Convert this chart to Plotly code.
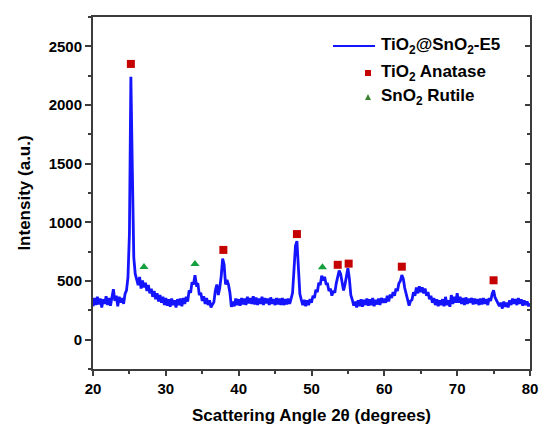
import numpy as np
import plotly.graph_objects as go

# 2-theta grid (0.2 deg steps, 20..80)
two_theta = np.round(np.arange(20.0, 80.01, 0.2), 1)

intensity = [
    285, 355, 295, 365, 300, 350, 275, 345, 305, 370,   # 20.0-21.8
    295, 355, 290, 360, 430, 330, 375, 285, 365, 315,   # 22.0-23.8
    355, 305, 390, 420, 530, 900, 2240, 1450, 700, 560,  # 24.0-25.8
    500, 465, 535, 435, 505, 445, 485, 415, 465, 395,   # 26.0-27.8
    435, 365, 415, 345, 395, 325, 380, 315, 365, 295,   # 28.0-29.8
    355, 290, 345, 280, 350, 295, 335, 275, 345, 295,   # 30.0-31.8
    350, 285, 355, 305, 365, 325, 420, 400, 490, 470,   # 32.0-33.8
    550, 470, 480, 380, 400, 330, 370, 305, 355, 295,   # 34.0-35.8
    335, 275, 300, 320, 420, 470, 380, 440, 540, 690,   # 36.0-37.8
    640, 470, 510, 470, 400, 280, 325, 285, 350, 295,   # 38.0-39.8
    345, 290, 355, 300, 350, 295, 365, 310, 355, 305,   # 40.0-41.8
    370, 300, 360, 295, 350, 305, 365, 295, 355, 310,   # 42.0-43.8
    350, 295, 360, 305, 345, 295, 355, 300, 350, 295,   # 44.0-45.8
    355, 295, 345, 300, 350, 305, 350, 400, 600, 800,   # 46.0-47.8
    840, 600, 390, 340, 295, 340, 285, 335, 295, 345,   # 48.0-49.8
    315, 375, 355, 425, 405, 485, 465, 545, 505, 535,   # 50.0-51.8
    475, 475, 415, 435, 375, 415, 400, 480, 530, 590,   # 52.0-53.8
    560, 480, 420, 470, 560, 610, 520, 380, 340, 290,   # 54.0-55.8
    325, 275, 335, 285, 345, 280, 340, 295, 350, 290,   # 56.0-57.8
    345, 295, 355, 285, 340, 300, 350, 295, 355, 315,   # 58.0-59.8
    350, 315, 375, 325, 385, 355, 405, 375, 435, 415,   # 60.0-61.8
    480, 500, 550, 520, 440, 380, 340, 290, 330, 340,   # 62.0-63.8
    405, 375, 445, 395, 455, 405, 445, 395, 435, 375,   # 64.0-65.8
    405, 345, 375, 315, 355, 295, 345, 285, 335, 295,   # 66.0-67.8
    345, 285, 365, 295, 335, 280, 380, 305, 365, 315,   # 68.0-69.8
    395, 315, 365, 305, 355, 295, 360, 305, 350, 315,   # 70.0-71.8
    355, 300, 350, 305, 345, 295, 350, 300, 355, 305,   # 72.0-73.8
    345, 295, 355, 330, 390, 420, 360, 330, 315, 285,   # 74.0-75.8
    315, 265, 325, 280, 315, 275, 335, 295, 350, 305,   # 76.0-77.8
    345, 295, 355, 305, 345, 290, 335, 295, 325, 285,   # 78.0-79.8
    310,                                                 # 80.0
]

anatase_x = [25.2, 37.9, 48.0, 53.6, 55.1, 62.4, 75.0]
anatase_y = [2350, 765, 900, 638, 648, 622, 506]

rutile_x = [27.0, 34.0, 51.5]
rutile_y = [620, 645, 617]

x_ticks = [20, 30, 40, 50, 60, 70, 80]
y_ticks = [0, 500, 1000, 1500, 2000, 2500]

BLUE = "rgb(20,20,255)"
RED = "rgb(196,0,0)"
GREEN = "rgb(20,160,60)"
AXC = "rgb(60,60,60)"
FONT = "Arial, Liberation Sans, sans-serif"

fig = go.Figure()
fig.add_trace(go.Scatter(x=two_theta, y=intensity, mode="lines",
                         line=dict(color=BLUE, width=2.8), showlegend=False))
fig.add_trace(go.Scatter(x=anatase_x, y=anatase_y, mode="markers",
                         marker=dict(symbol="square", size=8, color=RED),
                         showlegend=False))
fig.add_trace(go.Scatter(x=rutile_x, y=rutile_y, mode="markers",
                         marker=dict(symbol="triangle-up", size=8, color=GREEN),
                         showlegend=False))
# helper trace for right-side axis
fig.add_trace(go.Scatter(x=[None], y=[None], yaxis="y2", showlegend=False))

tickfont = dict(size=15, family=FONT, weight="bold", color="black")

fig.update_layout(
    width=539, height=425,
    margin=dict(l=93, r=9, t=17, b=56),
    plot_bgcolor="white", paper_bgcolor="white",
    font=dict(family=FONT, color="black"),
    xaxis=dict(range=[20, 80], tickvals=x_ticks, ticks="outside", ticklen=5,
               tickwidth=1.5, tickcolor=AXC, showline=True, linecolor=AXC,
               linewidth=2, mirror=True, showgrid=False, zeroline=False,
               automargin=False, tickfont=tickfont,
               minor=dict(ticks="outside", dtick=5, ticklen=3, tickcolor=AXC,
                          tickwidth=1.5),
               title=dict(text="<b>Scattering Angle 2θ (degrees)</b>",
                          font=dict(size=17), standoff=16)),
    yaxis=dict(range=[-250, 2750], tickvals=y_ticks, ticks="outside", ticklen=6,
               tickwidth=1.5, tickcolor=AXC, showline=True, linecolor=AXC,
               linewidth=2, mirror=False, showgrid=False, zeroline=False,
               automargin=False, tickfont=tickfont,
               minor=dict(ticks="outside", dtick=250, tick0=0, ticklen=3,
                          tickcolor=AXC, tickwidth=1.5),
               title=dict(text="<b>Intensity (a.u.)</b>", font=dict(size=17),
                          standoff=14)),
    yaxis2=dict(range=[-250, 2750], overlaying="y", side="right",
                tickvals=y_ticks, ticks="inside", ticklen=5, tickwidth=1.5,
                tickcolor=AXC, showline=True, linecolor=AXC, linewidth=2,
                showticklabels=False, showgrid=False, zeroline=False,
                automargin=False,
                minor=dict(ticks="inside", dtick=250, tick0=0, ticklen=3,
                           tickcolor=AXC, tickwidth=1.5)),
)

# manual legend (paper coordinates from pixel positions)
def px2x(p):
    return (p - 93) / 437.0

def py2y(p):
    return (369 - p) / 352.0

fig.add_shape(type="line", xref="paper", yref="paper",
              x0=px2x(333), x1=px2x(375), y0=py2y(46), y1=py2y(46),
              line=dict(color=BLUE, width=2))
fig.add_shape(type="rect", xref="paper", yref="paper",
              xsizemode="pixel", ysizemode="pixel",
              xanchor=px2x(368), yanchor=py2y(73),
              x0=-3, x1=3, y0=-3, y1=3,
              fillcolor=RED, line=dict(width=0))
fig.add_shape(type="path", xref="paper", yref="paper",
              xsizemode="pixel", ysizemode="pixel",
              xanchor=px2x(368), yanchor=py2y(97),
              path="M -3,-3 L 3,-3 L 0,3 Z",
              fillcolor="rgb(60,130,50)", line=dict(width=0))

legend_texts = ["<b>TiO<sub>2</sub>@SnO<sub>2</sub>-E5</b>",
                "<b>TiO<sub>2</sub> Anatase</b>",
                "<b>SnO<sub>2</sub> Rutile</b>"]
legend_py = [46, 73, 97]
for t, p in zip(legend_texts, legend_py):
    fig.add_annotation(text=t, xref="paper", yref="paper", x=px2x(379),
                       y=py2y(p), xanchor="left", yanchor="middle",
                       showarrow=False, font=dict(size=17, family=FONT))

fig.write_html("out.html", config={"displayModeBar": False},
               post_script="document.body.style.margin='0';")
